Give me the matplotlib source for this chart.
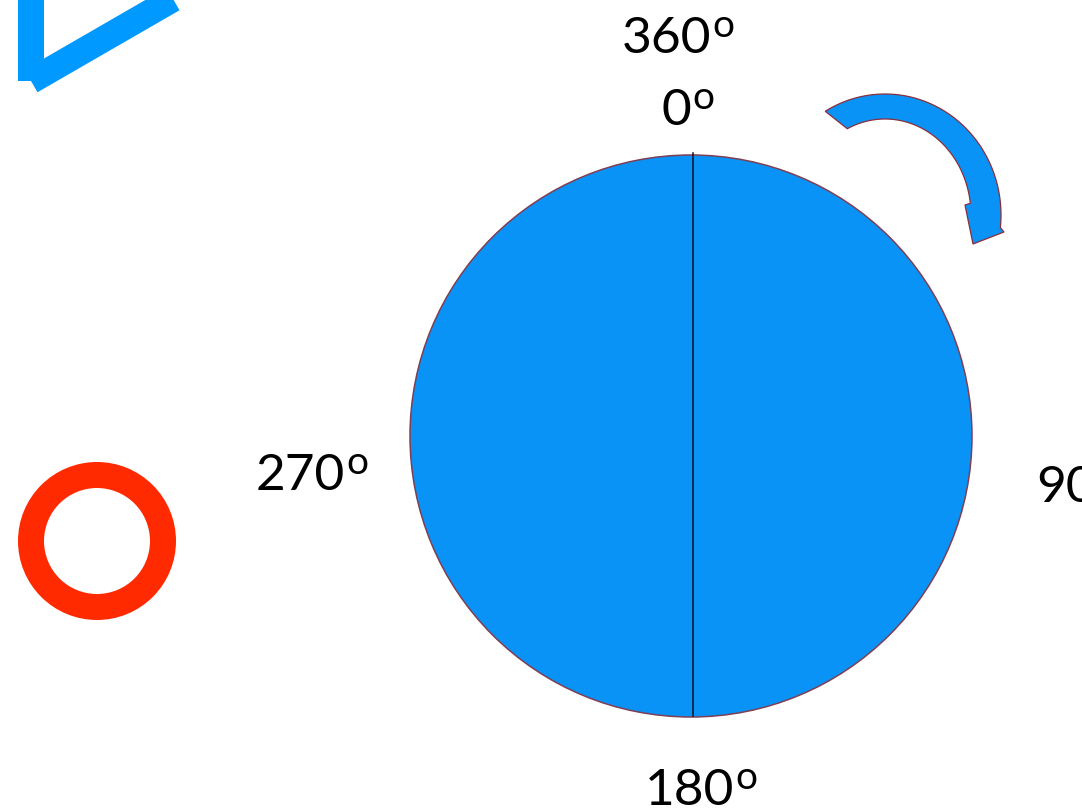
import numpy as np
import matplotlib
matplotlib.use("Agg")
import matplotlib.pyplot as plt
from matplotlib.patches import Circle, Polygon

# ---- content ----
angle_labels = ["360", "0", "270", "180", "90"]
# (digit right anchor x, baseline y) in pixel space
label_pos = [(711, 53), (691, 125), (345, 490), (734, 805), (1036, 502)]

W, H = 1082, 808
fig = plt.figure(figsize=(W / 100, H / 100), dpi=100)
ax = fig.add_axes([0, 0, 1, 1])
ax.set_xlim(0, W)
ax.set_ylim(H, 0)
ax.axis("off")

BLUE = "#0A93F6"
TRI = "#0099FF"
RED = "#FF2A00"
EDGE = "#7E3F55"

# main disc
cx, cy, r = 691, 436, 281
ax.add_patch(Circle((cx, cy), r, facecolor=BLUE, edgecolor=EDGE, lw=1.1, zorder=2))
ax.plot([693, 693], [153, 716], color="#101028", lw=1.1, zorder=3)

# red ring
ax.add_patch(Circle((97, 541), 66, facecolor="none", edgecolor=RED, lw=26 * 0.72, zorder=2))

# partial triangle (play shape) top-left
vx, vy, side = 31, 81, 320
tri = [(vx, vy), (vx, vy - side), (vx + side * np.cos(np.pi / 6), vy - side / 2)]
ax.add_patch(Polygon(tri, closed=True, facecolor="none", edgecolor=TRI,
                     lw=26 * 0.72, joinstyle="round", zorder=2))

# curved arrow
acx, acy = 885, 215
t_out = np.radians(np.linspace(121, -6, 80))
t_in = np.radians(np.linspace(7, 116, 80))
outer = np.c_[acx + 116 * np.cos(t_out), acy - 121 * np.sin(t_out)]
inner = np.c_[acx + 86 * np.cos(t_in), acy - 96 * np.sin(t_in)]
head = np.array([[1004, 232], [973, 244], [965, 205]])
arrow = np.vstack([outer, head, inner])
ax.add_patch(Polygon(arrow, closed=True, facecolor=BLUE, edgecolor="#8B2E3C",
                     lw=0.9, zorder=2))

# labels
fam = ["Lato", "DejaVu Sans"]
for txt, (x, y) in zip(angle_labels, label_pos):
    if txt == "90":
        ax.text(x, y, txt, fontsize=37, family=fam, ha="left", va="baseline",
                color="black", zorder=4)
        continue
    ax.text(x, y, txt, fontsize=37, family=fam, ha="right", va="baseline",
            color="black", zorder=4)
    ax.text(x + 1, y - 16, "o", fontsize=28, family=fam, ha="left", va="baseline",
            color="black", zorder=4)

fig.savefig("out.png", dpi=100, facecolor="white")
